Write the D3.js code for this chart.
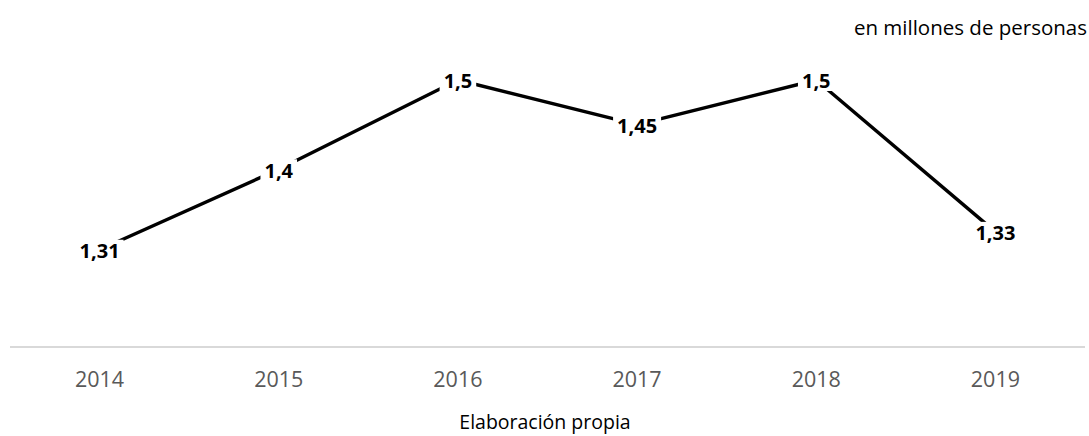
<!DOCTYPE html>
<html>
<head>
<meta charset="utf-8">
<script src="https://cdn.jsdelivr.net/npm/d3@7"></script>
<style>
  html, body { margin: 0; padding: 0; background: #fff; }
  svg { display: block; }
  text { font-family: "Open Sans", "Noto Sans", sans-serif; }
</style>
</head>
<body>
<svg id="chart" width="1089" height="436"></svg>
<script>
const years = ["2014", "2015", "2016", "2017", "2018", "2019"];
const values = [1.31, 1.4, 1.5, 1.45, 1.5, 1.33];
const valueLabels = ["1,31", "1,4", "1,5", "1,45", "1,5", "1,33"];
const unitLabel = "en millones de personas";
const sourceLabel = "Elaboración propia";

const svg = d3.select("#chart");

const x = d3.scaleBand().domain(years).range([10, 1085]).paddingInner(0).paddingOuter(0);
const y = d3.scaleLinear().domain([1.2, 1.5]).range([348, 80]);
const cx = d => x(d) + x.bandwidth() / 2;

// axis line
svg.append("line")
  .attr("x1", 10).attr("x2", 1085)
  .attr("y1", y(1.2) - 1).attr("y2", y(1.2) - 1)
  .attr("stroke", "#d9d9d9").attr("stroke-width", 2);

// x labels
svg.append("g").selectAll("text").data(years).join("text")
  .attr("x", d => cx(d)).attr("y", 387)
  .attr("text-anchor", "middle")
  .attr("font-size", 21.5)
  .attr("fill", "#595959")
  .text(d => d);

// line
const data = years.map((yr, i) => ({ yr, v: values[i], lab: valueLabels[i] }));
const line = d3.line().x(d => cx(d.yr)).y(d => y(d.v));
svg.append("path").datum(data)
  .attr("d", line)
  .attr("fill", "none")
  .attr("stroke", "#000")
  .attr("stroke-width", 3.4)
  .attr("stroke-linejoin", "round");

// labels with white boxes
const fs = 20;
const lg = svg.append("g").selectAll("g").data(data).join("g");
lg.append("rect").attr("fill", "#fff");
lg.append("text")
  .attr("x", d => cx(d.yr))
  .attr("y", d => y(d.v) + fs * 0.36 + 1)
  .attr("text-anchor", "middle")
  .attr("font-weight", "bold")
  .attr("font-size", fs)
  .attr("fill", "#000")
  .text(d => d.lab);
lg.each(function(d) {
  const t = d3.select(this).select("text").node();
  const w = t.getComputedTextLength();
  d3.select(this).select("rect")
    .attr("x", cx(d.yr) - w / 2 - 4)
    .attr("y", y(d.v) - 10)
    .attr("width", w + 8)
    .attr("height", 21);
});

// unit label
svg.append("text")
  .attr("x", 1087).attr("y", 35)
  .attr("text-anchor", "end")
  .attr("font-size", 20.5)
  .attr("fill", "#000")
  .text(unitLabel);

// source
svg.append("text")
  .attr("x", 545).attr("y", 429)
  .attr("text-anchor", "middle")
  .attr("font-size", 19.5)
  .attr("fill", "#000")
  .text(sourceLabel);
</script>
</body>
</html>
